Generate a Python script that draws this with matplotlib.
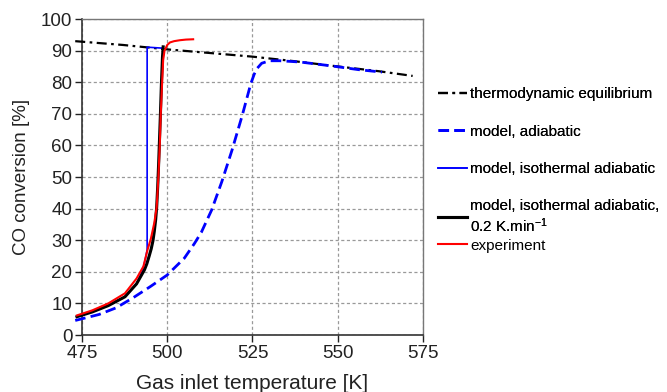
import matplotlib.pyplot as plt
from matplotlib.lines import Line2D

plt.rcParams['font.family'] = ['Liberation Sans', 'DejaVu Sans']
plt.rcParams['mathtext.fontset'] = 'custom'
plt.rcParams['mathtext.rm'] = 'Liberation Sans'
plt.rcParams['mathtext.it'] = 'Liberation Sans'

# thermodynamic equilibrium
t_eq = [473, 487, 500, 512, 525, 537, 550, 562, 572]
x_eq = [93.0, 91.8, 90.4, 89.3, 88.1, 86.7, 85.0, 83.5, 82.0]

# model, adiabatic
t_ad = [473, 480, 485, 490, 495, 500, 505, 508, 510, 513, 516, 519, 522, 524.5,
        525.5, 526.3, 527.7, 530, 533, 539, 545, 550, 556, 563]
x_ad = [4.6, 6.5, 8.6, 11.8, 15.3, 19.0, 24.3, 29.0, 32.5, 39.5, 48.5, 58.5, 69.5, 79.5,
        82.5, 84.3, 86.0, 86.8, 86.8, 86.4, 85.6, 84.9, 84.0, 83.2]

# model, isothermal adiabatic
t_iso = [473.5, 478, 482.7, 487.6, 491, 492.8, 493.5, 494.1, 494.1, 498.5]
x_iso = [5.8, 7.3, 9.3, 12.1, 16.2, 20.6, 23.7, 27.0, 91.1, 90.8]

# model, isothermal adiabatic, 0.2 K/min
t_slow = [473.5, 478, 482.7, 487.6, 491, 493.3, 494.0, 494.7, 495.3, 495.8, 496.2, 496.6,
          496.9, 497.2, 497.5, 497.8, 498.0, 498.3, 498.6, 498.8]
x_slow = [5.8, 7.3, 9.3, 12.1, 16.2, 20.6, 22.5, 25.0, 27.3, 29.8, 32.8, 36.5,
          40.5, 47.0, 55.0, 64.0, 70.0, 80.0, 88.0, 91.2]

# experiment
t_exp = [473.5, 478, 482.7, 487.6, 491, 493.0, 494.2, 495.2, 496.2, 496.9, 497.4, 497.8,
         498.1, 498.5, 498.8, 499.2, 500, 500.8, 502, 503.7, 505.5, 507.6]
x_exp = [6.2, 7.8, 10.0, 13.2, 17.9, 21.7, 26.9, 30.5, 35.5, 40.5, 50.0, 60.0,
         70.0, 80.0, 87.0, 90.0, 91.8, 92.6, 93.0, 93.3, 93.5, 93.6]

fig = plt.figure(figsize=(6.67, 3.92), dpi=100)
ax = fig.add_axes([0.123, 0.1454, 0.511, 0.806])

ax.grid(True, color='#999999', linestyle=(0, (2.5, 2)), linewidth=0.9)
ax.set_axisbelow(True)

eq_style = dict(color='black', lw=1.6, dashes=(4.5, 2.0, 1.2, 2.0))
ad_style = dict(color='#0000ff', lw=2.0, dashes=(3.8, 1.9))
iso_style = dict(color='#0000ff', lw=1.2)
slow_style = dict(color='black', lw=2.2)
exp_style = dict(color='red', lw=1.5)

ax.plot(t_eq, x_eq, clip_on=False, zorder=3, **eq_style)
ax.plot(t_ad, x_ad, clip_on=False, zorder=3, **ad_style)
ax.plot(t_iso, x_iso, clip_on=False, zorder=4, **iso_style)
ax.plot(t_slow, x_slow, clip_on=False, zorder=5, **slow_style)
ax.plot(t_exp, x_exp, clip_on=False, zorder=6, **exp_style)

ax.set_xlim(475, 575)
ax.set_ylim(0, 100)
ax.set_xticks([475, 500, 525, 550, 575])
ax.set_yticks(range(0, 101, 10))
ax.tick_params(direction='out', length=5, width=1, labelsize=13.5, colors='#222222', pad=2)
for s in ['left', 'bottom']:
    ax.spines[s].set_color('#333333')
    ax.spines[s].set_linewidth(1.2)
for s in ['top', 'right']:
    ax.spines[s].set_color('#777777')
    ax.spines[s].set_linewidth(1.0)

ax.set_xlabel('Gas inlet temperature [K]', fontsize=15, color='#222222', labelpad=9)
ax.set_ylabel('CO conversion [%]', fontsize=13.5, color='#222222', labelpad=8)

leg_kw = dict(loc='upper left', frameon=False, fontsize=11, handlelength=1.9,
              handletextpad=0.25, borderaxespad=0, borderpad=0)
leg1 = fig.legend([Line2D([], [], **eq_style), Line2D([], [], **ad_style),
                   Line2D([], [], **iso_style), Line2D([], [], **slow_style)],
                  ['thermodynamic equilibrium', 'model, adiabatic',
                   'model, isothermal adiabatic',
                   'model, isothermal adiabatic,\n0.2 K.min$^{-1}$'],
                  bbox_to_anchor=(0.656, 0.777), labelspacing=1.52, **leg_kw)
fig.add_artist(leg1)
fig.legend([Line2D([], [], **exp_style)], ['experiment'],
           bbox_to_anchor=(0.656, 0.391), **leg_kw)

fig.savefig('out.png', dpi=100)
